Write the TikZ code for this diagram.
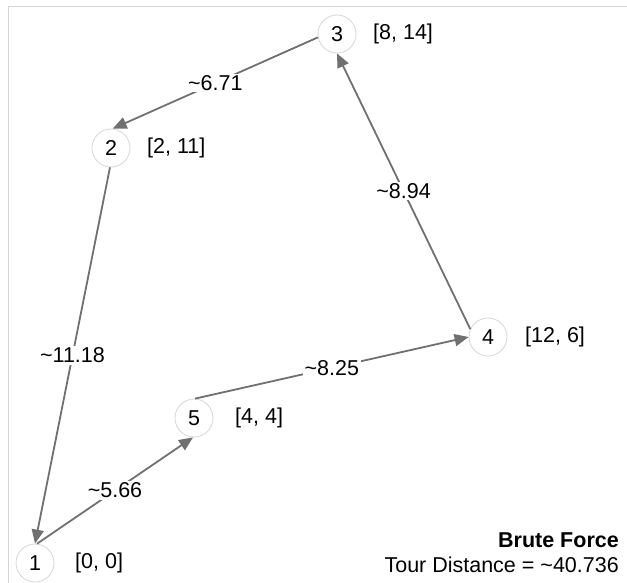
\documentclass[tikz,border=0pt]{standalone}
\usepackage{fontspec}
\setmainfont{Liberation Sans}
\usetikzlibrary{arrows.meta}
\definecolor{edgegray}{HTML}{707070}
\definecolor{circgray}{HTML}{D6D6D6}
\definecolor{framegray}{HTML}{D4D4D4}
\newcommand{\lblfont}{\fontsize{21.5}{25}\selectfont}
\tikzset{
  city/.style={circle, draw=circgray, line width=0.8pt, fill=white, minimum size=38pt, inner sep=0pt, font=\lblfont},
  coordlbl/.style={anchor=west, inner sep=0pt, font=\lblfont},
  tour/.style={draw=edgegray, line width=1.8pt, -{Triangle[length=14pt,width=12pt]}},
  dist/.style={fill=white, inner sep=1.5pt, font=\lblfont, pos=0.5},
  info/.style={anchor=east, inner sep=0pt, font=\lblfont}
}
\begin{document}
\begin{tikzpicture}[x=1pt, y=-1pt]
\useasboundingbox (0,0) rectangle (627,583);
\draw[framegray, line width=1pt] (8,583) -- (8,7) -- (627,7);
\node[city] (n1) at (35,563) {1};
\node[city] (n2) at (111,148) {2};
\node[city] (n3) at (337,34) {3};
\node[city] (n4) at (488,337) {4};
\node[city] (n5) at (194,418) {5};
\node[coordlbl] (c1) at (75,563) {[0, 0]};
\node[coordlbl] (c2) at (147,148) {[2, 11]};
\node[coordlbl] (c3) at (373,34) {[8, 14]};
\node[coordlbl] (c4) at (525,337) {[12, 6]};
\node[coordlbl] (c5) at (235,418) {[4, 4]};
\draw[tour] (n1.84) -- node[dist] {\textasciitilde 5.66} (n5.267);
\draw[tour] (n5.87) -- node[dist] {\textasciitilde 8.25} (n4.180);
\draw[tour] (n4.156) -- node[dist] {\textasciitilde 8.94} (n3.270);
\draw[tour] (n3.190) -- node[dist] {\textasciitilde 6.71} (n2.85);
\draw[tour] (n2.267) -- node[dist] {\textasciitilde 11.18} (n1.90);
\node[info, font=\lblfont\bfseries] (title) at (619,540) {Brute Force};
\node[info] (total) at (619,565) {Tour Distance = \textasciitilde 40.736};
\end{tikzpicture}
\end{document}
